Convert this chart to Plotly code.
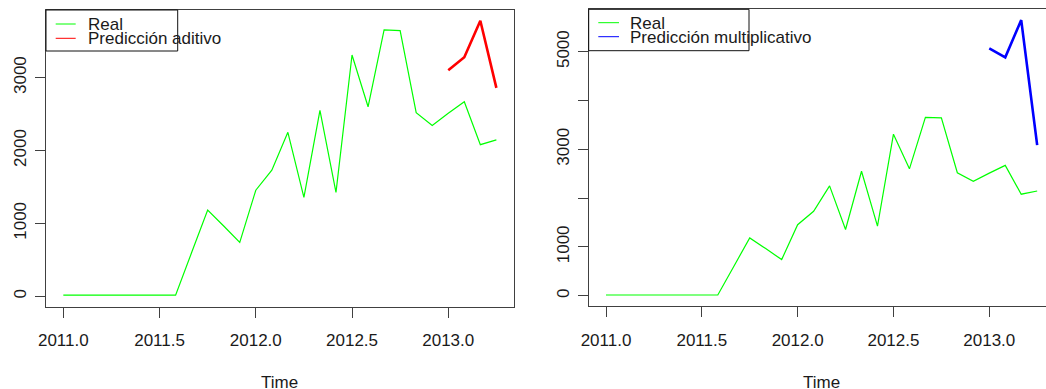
import plotly.graph_objects as go

# Monthly series (ts start = 2011, frequency = 12)
START_YEAR = 2011
FREQ = 12

real = [15, 15, 15, 15, 15, 15, 15, 15, 600, 1183, 965, 740,
        1455, 1730, 2250, 1357, 2550, 1425, 3310, 2600, 3655, 3645,
        2520, 2345, 2512, 2670, 2080, 2145]
pred_aditivo = [3100, 3280, 3780, 2860]
pred_multiplicativo = [5068, 4884, 5649, 3087]
pred_start_index = 24

time_real = [START_YEAR + i / FREQ for i in range(len(real))]
time_pred = [START_YEAR + (pred_start_index + i) / FREQ for i in range(len(pred_aditivo))]

x_tickvals = [2011.0, 2011.5, 2012.0, 2012.5, 2013.0]
x_ticktext = ["2011.0", "2011.5", "2012.0", "2012.5", "2013.0"]
y1_tickvals = [0, 1000, 2000, 3000]
y1_ticktext = ["0", "1000", "2000", "3000"]
y2_tickvals = [0, 1000, 2000, 3000, 4000, 5000]
y2_ticktext = ["0", "1000", "", "3000", "", "5000"]

W, H = 1046, 389
FONT = "Liberation Sans, Arial, sans-serif"
TXT = "#1a1a1a"
AXC = "#404040"


def fx(px):
    return px / W


def fy(py):
    return 1 - py / H


fig = go.Figure()

fig.add_trace(go.Scatter(x=time_real, y=real, mode="lines",
                         line=dict(color="#00ff00", width=1.2),
                         xaxis="x", yaxis="y", showlegend=False))
fig.add_trace(go.Scatter(x=time_pred, y=pred_aditivo, mode="lines",
                         line=dict(color="#ff0000", width=2.6),
                         xaxis="x", yaxis="y", showlegend=False))
fig.add_trace(go.Scatter(x=time_real, y=real, mode="lines",
                         line=dict(color="#00ff00", width=1.2),
                         xaxis="x2", yaxis="y2", showlegend=False))
fig.add_trace(go.Scatter(x=time_pred, y=pred_multiplicativo, mode="lines",
                         line=dict(color="#0000ff", width=2.6),
                         xaxis="x2", yaxis="y2", showlegend=False))

xcommon = dict(tickmode="array", tickvals=x_tickvals, ticktext=x_ticktext,
               ticks="outside", ticklen=10, tickcolor=AXC, tickwidth=1,
               showline=True, linecolor=AXC, linewidth=1, mirror=True,
               showgrid=False, zeroline=False, automargin=False,
               tickfont=dict(family=FONT, size=17, color=TXT),
               ticklabelstandoff=8)
ycommon = dict(tickmode="array", ticks="outside", ticklen=10, tickcolor=AXC,
               tickwidth=1, showline=True, linecolor=AXC, linewidth=1,
               showgrid=False, zeroline=False, tickangle=-90, automargin=False,
               tickfont=dict(family=FONT, size=17, color=TXT),
               ticklabelstandoff=2)

fig.update_layout(
    width=W, height=H,
    margin=dict(l=0, r=0, t=0, b=0, autoexpand=False),
    paper_bgcolor="white", plot_bgcolor="white",
    xaxis=dict(domain=[fx(46), fx(513.7)], range=[2010.91, 2013.34],
               anchor="y", **xcommon),
    yaxis=dict(domain=[fy(307), fy(10)], range=[-147, 3928], anchor="x",
               tickvals=y1_tickvals, ticktext=y1_ticktext, mirror=True,
               **ycommon),
    xaxis2=dict(domain=[fx(588.7), 1.0], range=[2010.9097, 2013.296],
                anchor="y2", **xcommon),
    yaxis2=dict(domain=[fy(306.3), fy(9.3)], range=[-217, 5869], anchor="x2",
                tickvals=y2_tickvals, ticktext=y2_ticktext, mirror=False,
                **ycommon),
    showlegend=False,
)

shapes = []
annotations = []


def legend_box(x0, x1, y0, y1, line_x0, line_x1, ys, colors, labels, text_x):
    shapes.append(dict(type="rect", xref="paper", yref="paper",
                       x0=fx(x0), x1=fx(x1), y0=fy(y1), y1=fy(y0),
                       line=dict(color="#111111", width=1),
                       fillcolor="rgba(255,255,255,0)"))
    for yy, col, lab in zip(ys, colors, labels):
        shapes.append(dict(type="line", xref="paper", yref="paper",
                           x0=fx(line_x0), x1=fx(line_x1), y0=fy(yy), y1=fy(yy),
                           line=dict(color=col, width=1)))
        annotations.append(dict(text=lab, xref="paper", yref="paper",
                                x=fx(text_x), y=fy(yy + 0.5), xanchor="left",
                                yanchor="middle", showarrow=False,
                                font=dict(family=FONT, size=17, color=TXT)))


legend_box(46, 177.7, 10, 51, 55.7, 75.7, [24, 38.3],
           ["#00ff00", "#ff0000"], ["Real", "Predicción aditivo"], 85.7)
legend_box(588.7, 749, 9.3, 50.7, 598.3, 619, [22.7, 36.7],
           ["#00ff00", "#0000ff"], ["Real", "Predicción multiplicativo"], 628.3)

# axis titles
for cx in (279, 821):
    annotations.append(dict(text="Time", xref="paper", yref="paper",
                            x=fx(cx), y=fy(382), xanchor="center",
                            yanchor="middle", showarrow=False,
                            font=dict(family=FONT, size=17, color=TXT)))

fig.update_layout(shapes=shapes, annotations=annotations)

fig.write_html("out.html")
